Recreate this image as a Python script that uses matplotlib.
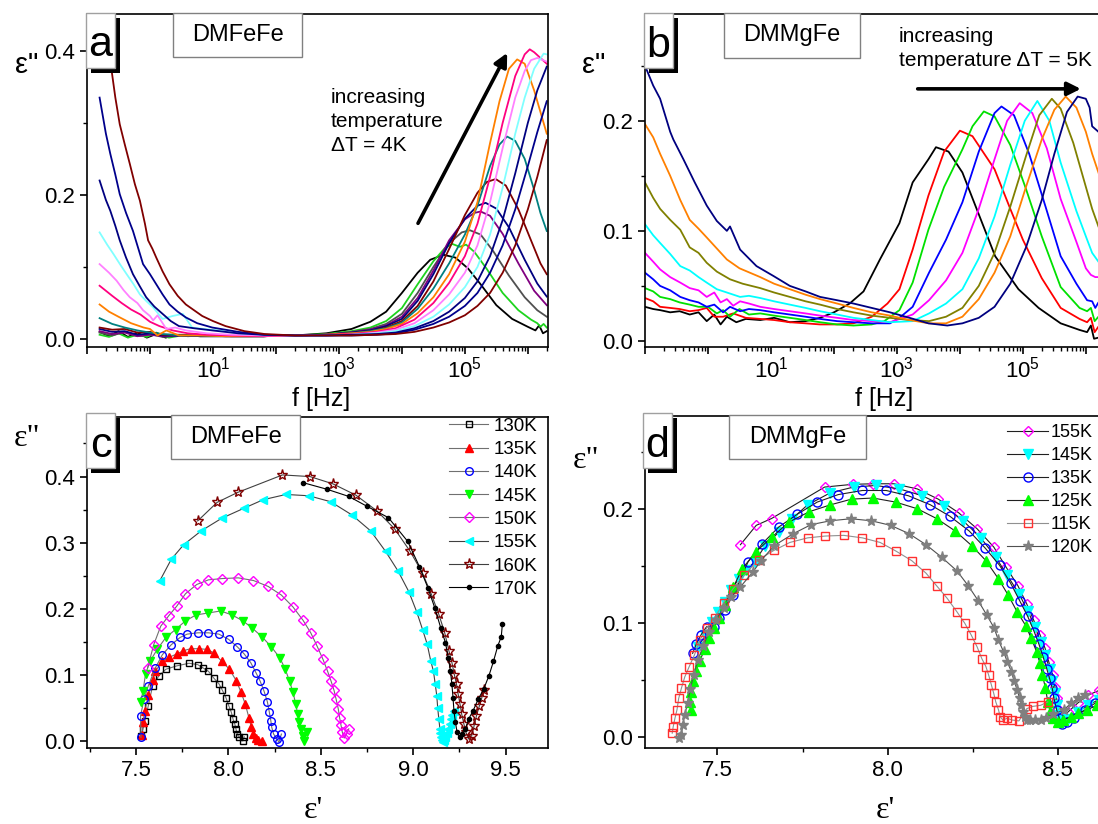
import numpy as np
import matplotlib
matplotlib.use('Agg')
import matplotlib.pyplot as plt
from matplotlib.patches import Rectangle
from matplotlib.ticker import LogLocator, FuncFormatter, MultipleLocator, NullFormatter, FormatStrFormatter

plt.rcParams['font.family'] = ['Liberation Sans', 'DejaVu Sans']
plt.rcParams['mathtext.fontset'] = 'custom'
plt.rcParams['mathtext.rm'] = 'Liberation Sans'
plt.rcParams['mathtext.it'] = 'Liberation Sans:italic'

# ---- panel a: DMFeFe, eps'' vs log10(f), (log10 f, eps'') ----
a_black = [(-0.8,0.010),(-0.65,0.004),(-0.5,0.011),(-0.35,0.003),(-0.2,0.009),(-0.05,0.002),(0.1,0.007),(0.25,0.002),(0.4,0.006),(0.6,0.004),(0.9,0.005),(1.3,0.004),(1.8,0.004),(2.3,0.005),(2.8,0.008),(3.2,0.014),(3.5,0.024),(3.75,0.038),(4.0,0.064),(4.25,0.092),(4.45,0.110),(4.66,0.117),(4.85,0.113),(5.05,0.098),(5.25,0.076),(5.5,0.047),(5.75,0.028),(6.0,0.017),(6.12,0.012),(6.18,0.019),(6.24,0.008),(6.3,0.011)]
a_green = [(-0.8,0.006),(-0.65,0.003),(-0.5,0.008),(-0.35,0.002),(-0.2,0.006),(-0.05,0.003),(0.1,0.009),(0.3,0.002),(0.5,0.005),(0.8,0.004),(1.2,0.004),(1.8,0.004),(2.3,0.005),(2.8,0.007),(3.2,0.011),(3.5,0.016),(3.75,0.025),(4.0,0.043),(4.25,0.076),(4.5,0.108),(4.68,0.126),(4.8,0.132),(4.92,0.128),(5.02,0.131),(5.15,0.121),(5.35,0.097),(5.6,0.064),(5.85,0.040),(6.05,0.027),(6.15,0.022),(6.2,0.017),(6.25,0.021),(6.3,0.016)]
a_gray = [(-0.8,0.009),(-0.6,0.005),(-0.4,0.010),(-0.2,0.004),(0.0,0.007),(0.2,0.003),(0.5,0.005),(0.8,0.004),(1.2,0.004),(1.8,0.004),(2.3,0.005),(2.8,0.006),(3.2,0.010),(3.5,0.014),(3.75,0.021),(4.0,0.035),(4.25,0.064),(4.5,0.100),(4.75,0.133),(4.95,0.148),(5.08,0.151),(5.25,0.145),(5.45,0.122),(5.7,0.088),(5.95,0.058),(6.15,0.040),(6.3,0.031)]
a_purple = [(-0.8,0.011),(-0.6,0.007),(-0.4,0.009),(-0.2,0.004),(0.0,0.006),(0.2,0.004),(0.5,0.005),(0.8,0.004),(1.2,0.004),(1.8,0.004),(2.3,0.005),(2.8,0.006),(3.2,0.009),(3.5,0.013),(3.75,0.019),(4.0,0.031),(4.25,0.057),(4.5,0.095),(4.75,0.137),(5.0,0.166),(5.15,0.175),(5.25,0.177),(5.4,0.171),(5.6,0.146),(5.85,0.105),(6.1,0.067),(6.3,0.047)]
a_navy1 = [(-0.8,0.014),(-0.6,0.010),(-0.4,0.011),(-0.2,0.006),(0.0,0.008),(0.2,0.005),(0.5,0.005),(0.8,0.004),(1.2,0.004),(1.8,0.004),(2.3,0.005),(2.8,0.006),(3.2,0.009),(3.5,0.012),(3.75,0.018),(4.0,0.028),(4.25,0.053),(4.5,0.090),(4.75,0.133),(5.0,0.167),(5.2,0.185),(5.33,0.189),(5.5,0.181),(5.7,0.155),(5.95,0.110),(6.15,0.077),(6.3,0.059)]
a_wine1 = [(-0.8,0.016),(-0.6,0.013),(-0.4,0.014),(-0.2,0.009),(0.0,0.010),(0.2,0.006),(0.5,0.006),(0.8,0.005),(1.2,0.004),(1.8,0.004),(2.3,0.005),(2.8,0.006),(3.2,0.008),(3.5,0.011),(3.75,0.016),(4.0,0.025),(4.25,0.046),(4.5,0.080),(4.75,0.125),(5.0,0.172),(5.2,0.203),(5.35,0.218),(5.49,0.222),(5.65,0.213),(5.85,0.180),(6.05,0.137),(6.2,0.105),(6.3,0.090)]
a_teal = [(-0.8,0.029),(-0.6,0.021),(-0.4,0.016),(-0.2,0.012),(0.0,0.009),(0.2,0.007),(0.5,0.005),(0.8,0.005),(1.2,0.004),(1.8,0.004),(2.3,0.005),(2.8,0.006),(3.2,0.008),(3.5,0.011),(3.75,0.015),(4.0,0.023),(4.25,0.042),(4.5,0.070),(4.75,0.105),(5.0,0.145),(5.2,0.185),(5.4,0.240),(5.55,0.270),(5.67,0.281),(5.8,0.275),(5.95,0.250),(6.1,0.207),(6.2,0.175),(6.3,0.150)]
a_orange = [(-0.8,0.048),(-0.65,0.038),(-0.5,0.031),(-0.3,0.022),(-0.1,0.016),(0.0,0.014),(0.12,0.005),(0.26,0.012),(0.46,0.005),(0.8,0.005),(1.2,0.004),(1.8,0.004),(2.3,0.005),(2.8,0.006),(3.2,0.008),(3.5,0.010),(3.75,0.014),(4.0,0.021),(4.25,0.036),(4.5,0.058),(4.75,0.090),(5.0,0.135),(5.2,0.190),(5.4,0.272),(5.55,0.330),(5.7,0.375),(5.83,0.388),(5.95,0.382),(6.1,0.345),(6.2,0.315),(6.3,0.285)]
a_pink = [(-0.8,0.074),(-0.6,0.060),(-0.45,0.050),(-0.3,0.041),(-0.15,0.034),(0.0,0.024),(0.15,0.018),(0.36,0.012),(0.6,0.008),(0.9,0.006),(1.3,0.005),(1.8,0.004),(2.3,0.005),(2.8,0.006),(3.2,0.007),(3.6,0.010),(3.9,0.015),(4.2,0.027),(4.5,0.050),(4.75,0.078),(5.0,0.115),(5.2,0.160),(5.4,0.225),(5.6,0.300),(5.8,0.365),(5.95,0.395),(6.03,0.402),(6.1,0.398),(6.2,0.390),(6.3,0.382)]
a_ltmag = [(-0.8,0.104),(-0.65,0.092),(-0.53,0.081),(-0.42,0.068),(-0.32,0.058),(-0.2,0.050),(-0.11,0.040),(0.0,0.032),(0.05,0.026),(0.12,0.033),(0.26,0.014),(0.4,0.016),(0.57,0.012),(0.9,0.008),(1.3,0.006),(1.8,0.005),(2.3,0.005),(2.8,0.005),(3.2,0.006),(3.6,0.009),(3.9,0.013),(4.2,0.022),(4.5,0.040),(4.75,0.062),(5.0,0.092),(5.2,0.130),(5.4,0.190),(5.6,0.265),(5.8,0.335),(5.95,0.372),(6.05,0.387),(6.15,0.390),(6.3,0.385)]
a_ltcyan = [(-0.8,0.148),(-0.68,0.131),(-0.58,0.118),(-0.47,0.103),(-0.37,0.090),(-0.26,0.076),(-0.16,0.062),(-0.05,0.052),(0.05,0.044),(0.2,0.028),(0.36,0.032),(0.52,0.035),(0.67,0.016),(0.85,0.014),(1.09,0.012),(1.4,0.008),(1.8,0.006),(2.3,0.005),(2.8,0.005),(3.2,0.006),(3.6,0.008),(3.9,0.011),(4.2,0.018),(4.5,0.031),(4.75,0.048),(5.0,0.072),(5.2,0.100),(5.4,0.145),(5.6,0.210),(5.8,0.285),(5.95,0.335),(6.1,0.375),(6.25,0.396),(6.3,0.395)]
a_navy2 = [(-0.8,0.220),(-0.7,0.193),(-0.63,0.178),(-0.55,0.157),(-0.48,0.137),(-0.38,0.113),(-0.27,0.090),(-0.16,0.073),(-0.06,0.058),(0.07,0.045),(0.2,0.035),(0.33,0.025),(0.46,0.018),(0.7,0.015),(0.99,0.012),(1.4,0.008),(1.8,0.006),(2.3,0.005),(2.8,0.005),(3.2,0.006),(3.6,0.007),(3.9,0.009),(4.2,0.015),(4.5,0.025),(4.75,0.038),(5.0,0.057),(5.2,0.080),(5.4,0.115),(5.6,0.165),(5.8,0.230),(6.0,0.300),(6.15,0.345),(6.3,0.378)]
a_navy3 = [(-0.8,0.335),(-0.7,0.285),(-0.63,0.257),(-0.55,0.228),(-0.48,0.201),(-0.38,0.175),(-0.27,0.150),(-0.19,0.127),(-0.11,0.104),(0.0,0.090),(0.1,0.076),(0.2,0.062),(0.31,0.048),(0.44,0.038),(0.57,0.030),(0.75,0.022),(0.99,0.016),(1.4,0.010),(1.82,0.006),(2.3,0.005),(2.8,0.005),(3.2,0.005),(3.6,0.006),(3.9,0.008),(4.2,0.013),(4.5,0.021),(4.75,0.031),(5.0,0.046),(5.2,0.064),(5.4,0.092),(5.6,0.130),(5.8,0.180),(6.0,0.240),(6.15,0.287),(6.3,0.330)]
a_wine2 = [(-0.8,0.450),(-0.7,0.410),(-0.61,0.373),(-0.55,0.335),(-0.48,0.298),(-0.4,0.270),(-0.32,0.243),(-0.24,0.215),(-0.16,0.192),(-0.08,0.160),(-0.03,0.137),(0.04,0.125),(0.1,0.113),(0.2,0.094),(0.31,0.076),(0.44,0.060),(0.57,0.048),(0.7,0.040),(0.83,0.032),(1.0,0.025),(1.2,0.018),(1.5,0.011),(1.82,0.007),(2.3,0.005),(2.8,0.005),(3.2,0.005),(3.6,0.006),(3.9,0.007),(4.2,0.010),(4.5,0.016),(4.75,0.023),(5.0,0.033),(5.2,0.046),(5.4,0.064),(5.6,0.092),(5.8,0.130),(6.0,0.180),(6.15,0.225),(6.3,0.276)]

# ---- panel b: DMMgFe ----
b_black = [(-1.0,0.031),(-0.87,0.029),(-0.76,0.028),(-0.6,0.026),(-0.45,0.027),(-0.29,0.024),(-0.15,0.026),(-0.02,0.018),(0.1,0.024),(0.2,0.015),(0.3,0.022),(0.45,0.017),(0.6,0.020),(0.83,0.019),(1.05,0.021),(1.3,0.017),(1.55,0.018),(1.78,0.021),(2.0,0.026),(2.25,0.034),(2.47,0.045),(2.73,0.074),(3.04,0.107),(3.25,0.144),(3.5,0.165),(3.62,0.176),(3.82,0.172),(4.04,0.153),(4.3,0.115),(4.56,0.077),(4.93,0.047),(5.25,0.030),(5.6,0.016),(5.9,0.010),(6.02,0.008),(6.08,0.014),(6.13,0.002),(6.2,0.003),(6.3,0.002)]
b_red = [(-1.0,0.039),(-0.87,0.036),(-0.76,0.031),(-0.6,0.030),(-0.45,0.029),(-0.29,0.027),(-0.15,0.028),(-0.02,0.030),(0.1,0.022),(0.24,0.022),(0.4,0.025),(0.6,0.021),(0.83,0.020),(1.05,0.019),(1.3,0.017),(1.55,0.016),(1.78,0.015),(2.05,0.015),(2.31,0.016),(2.6,0.022),(2.85,0.034),(3.04,0.047),(3.25,0.083),(3.5,0.132),(3.75,0.172),(4.0,0.191),(4.2,0.186),(4.55,0.156),(4.8,0.120),(5.0,0.092),(5.3,0.057),(5.6,0.030),(5.9,0.020),(6.02,0.017),(6.08,0.021),(6.14,0.008),(6.2,0.013),(6.3,0.010)]
b_green = [(-1.0,0.048),(-0.87,0.045),(-0.76,0.040),(-0.6,0.038),(-0.45,0.035),(-0.29,0.033),(-0.15,0.031),(0.0,0.031),(0.14,0.025),(0.24,0.028),(0.35,0.022),(0.5,0.029),(0.65,0.024),(0.83,0.025),(1.05,0.023),(1.3,0.021),(1.55,0.019),(1.78,0.017),(2.05,0.015),(2.31,0.014),(2.6,0.015),(2.8,0.018),(3.04,0.028),(3.25,0.053),(3.5,0.101),(3.75,0.140),(4.04,0.174),(4.2,0.195),(4.38,0.2085),(4.55,0.204),(4.8,0.178),(5.05,0.138),(5.3,0.095),(5.6,0.049),(5.9,0.030),(6.02,0.027),(6.08,0.030),(6.14,0.018),(6.2,0.022),(6.3,0.018)]
b_blue = [(-1.0,0.062),(-0.87,0.056),(-0.76,0.050),(-0.6,0.046),(-0.44,0.040),(-0.29,0.037),(-0.15,0.035),(-0.02,0.031),(0.1,0.033),(0.24,0.026),(0.35,0.031),(0.51,0.027),(0.65,0.029),(0.83,0.028),(1.05,0.026),(1.3,0.024),(1.55,0.022),(1.78,0.020),(2.05,0.018),(2.31,0.017),(2.6,0.016),(2.89,0.016),(3.04,0.021),(3.25,0.031),(3.51,0.062),(3.78,0.092),(4.04,0.126),(4.3,0.172),(4.55,0.207),(4.66,0.213),(4.86,0.205),(5.1,0.170),(5.36,0.122),(5.6,0.077),(5.85,0.052),(6.02,0.037),(6.1,0.036),(6.15,0.030),(6.2,0.035),(6.3,0.030)]
b_magenta = [(-1.0,0.080),(-0.87,0.072),(-0.76,0.065),(-0.6,0.058),(-0.44,0.053),(-0.29,0.048),(-0.15,0.046),(-0.02,0.040),(0.1,0.044),(0.2,0.035),(0.3,0.038),(0.4,0.032),(0.51,0.036),(0.65,0.034),(0.83,0.031),(1.05,0.029),(1.3,0.027),(1.55,0.025),(1.78,0.023),(2.05,0.021),(2.31,0.019),(2.6,0.018),(2.89,0.017),(3.25,0.024),(3.51,0.037),(3.78,0.055),(4.04,0.080),(4.3,0.120),(4.55,0.165),(4.75,0.200),(4.95,0.216),(5.15,0.207),(5.38,0.175),(5.6,0.129),(5.85,0.090),(6.0,0.066),(6.08,0.060),(6.15,0.058),(6.2,0.058),(6.3,0.050)]
b_cyan = [(-1.0,0.106),(-0.87,0.096),(-0.76,0.089),(-0.6,0.079),(-0.44,0.068),(-0.29,0.064),(-0.15,0.058),(-0.02,0.053),(0.14,0.047),(0.3,0.044),(0.51,0.040),(0.65,0.041),(0.83,0.039),(1.05,0.036),(1.3,0.033),(1.55,0.030),(1.78,0.027),(2.05,0.024),(2.31,0.021),(2.6,0.019),(2.89,0.017),(3.25,0.018),(3.51,0.025),(3.78,0.034),(4.04,0.047),(4.3,0.075),(4.55,0.113),(4.8,0.160),(5.03,0.200),(5.23,0.218),(5.42,0.200),(5.6,0.162),(5.85,0.118),(6.02,0.092),(6.1,0.080),(6.2,0.072),(6.3,0.062)]
b_olive = [(-1.0,0.144),(-0.87,0.130),(-0.76,0.120),(-0.6,0.110),(-0.44,0.101),(-0.29,0.085),(-0.15,0.080),(-0.02,0.071),(0.14,0.063),(0.35,0.056),(0.55,0.052),(0.83,0.048),(1.05,0.044),(1.3,0.040),(1.55,0.036),(1.78,0.033),(2.05,0.029),(2.31,0.026),(2.6,0.023),(2.89,0.021),(3.2,0.019),(3.51,0.018),(3.78,0.022),(4.04,0.030),(4.3,0.050),(4.55,0.080),(4.8,0.122),(5.05,0.168),(5.26,0.205),(5.46,0.220),(5.6,0.211),(5.8,0.180),(6.0,0.140),(6.1,0.120),(6.2,0.104),(6.3,0.090)]
b_orange = [(-1.0,0.197),(-0.87,0.185),(-0.76,0.170),(-0.6,0.150),(-0.44,0.128),(-0.29,0.110),(-0.15,0.102),(-0.02,0.094),(0.14,0.084),(0.3,0.074),(0.5,0.066),(0.83,0.058),(1.05,0.052),(1.3,0.047),(1.55,0.042),(1.78,0.038),(2.05,0.034),(2.31,0.030),(2.6,0.026),(2.89,0.023),(3.2,0.019),(3.51,0.016),(3.78,0.016),(4.04,0.022),(4.3,0.038),(4.55,0.062),(4.8,0.095),(5.05,0.140),(5.3,0.183),(5.5,0.210),(5.68,0.222),(5.85,0.212),(6.0,0.190),(6.1,0.170),(6.2,0.153),(6.3,0.135)]
b_navy = [(-1.0,0.250),(-0.87,0.232),(-0.76,0.220),(-0.6,0.190),(-0.55,0.183),(-0.39,0.165),(-0.21,0.144),(-0.02,0.123),(0.14,0.109),(0.3,0.100),(0.35,0.104),(0.51,0.083),(0.77,0.068),(1.04,0.059),(1.3,0.050),(1.55,0.045),(1.78,0.040),(2.05,0.037),(2.31,0.034),(2.6,0.030),(2.89,0.026),(3.2,0.021),(3.5,0.016),(3.8,0.014),(4.04,0.016),(4.3,0.021),(4.55,0.031),(4.8,0.052),(5.05,0.085),(5.3,0.128),(5.5,0.170),(5.7,0.208),(5.87,0.222),(6.0,0.220),(6.06,0.212),(6.1,0.195),(6.2,0.190),(6.3,0.182)]

# ---- panel c: DMFeFe Cole-Cole, (eps', eps'') ----
c_130 = [(7.529,0.0075),(7.538,0.0186),(7.548,0.031),(7.567,0.054),(7.590,0.084),(7.624,0.099),(7.662,0.109),(7.720,0.114),(7.787,0.118),(7.834,0.116),(7.863,0.111),(7.892,0.106),(7.920,0.096),(7.949,0.087),(7.968,0.077),(7.987,0.066),(8.002,0.054),(8.016,0.044),(8.025,0.034),(8.035,0.026),(8.041,0.019),(8.048,0.011),(8.060,0.006),(8.079,0.001),(8.086,0.007)]
c_135 = [(7.534,0.010),(7.538,0.029),(7.548,0.046),(7.567,0.070),(7.590,0.092),(7.605,0.106),(7.643,0.121),(7.680,0.127),(7.720,0.132),(7.757,0.137),(7.796,0.140),(7.840,0.140),(7.882,0.139),(7.920,0.134),(7.964,0.121),(8.006,0.109),(8.044,0.091),(8.069,0.074),(8.092,0.056),(8.111,0.036),(8.125,0.021),(8.136,0.011),(8.148,0.005),(8.159,0.002),(8.182,0.000)]
c_140 = [(7.527,0.006),(7.525,0.039),(7.544,0.064),(7.567,0.084),(7.605,0.111),(7.643,0.131),(7.691,0.146),(7.739,0.157),(7.777,0.162),(7.834,0.164),(7.892,0.164),(7.949,0.162),(8.002,0.154),(8.048,0.143),(8.086,0.132),(8.121,0.119),(8.149,0.104),(8.172,0.091),(8.193,0.076),(8.211,0.060),(8.222,0.044),(8.230,0.031),(8.235,0.021),(8.245,0.011),(8.264,0.0035),(8.274,-0.0015),(8.287,0.011)]
c_145 = [(7.525,0.059),(7.538,0.076),(7.552,0.102),(7.576,0.121),(7.615,0.139),(7.662,0.157),(7.714,0.169),(7.768,0.182),(7.825,0.191),(7.892,0.194),(7.958,0.197),(8.020,0.191),(8.079,0.182),(8.130,0.171),(8.182,0.158),(8.232,0.143),(8.279,0.126),(8.308,0.109),(8.331,0.091),(8.350,0.074),(8.365,0.056),(8.375,0.041),(8.384,0.029),(8.392,0.019),(8.404,0.0085),(8.411,0.001),(8.426,0.0135)]
c_150 = [(7.563,0.111),(7.596,0.146),(7.634,0.174),(7.678,0.190),(7.720,0.204),(7.768,0.223),(7.829,0.237),(7.892,0.244),(7.968,0.246),(8.054,0.247),(8.136,0.243),(8.216,0.234),(8.287,0.221),(8.350,0.203),(8.404,0.183),(8.446,0.164),(8.480,0.144),(8.512,0.124),(8.537,0.106),(8.556,0.091),(8.572,0.077),(8.583,0.064),(8.595,0.049),(8.602,0.036),(8.610,0.024),(8.617,0.0135),(8.627,0.005),(8.640,0.011),(8.652,0.019)]
c_155 = [(7.628,0.242),(7.691,0.275),(7.758,0.297),(7.853,0.318),(7.964,0.337),(8.083,0.352),(8.188,0.365),(8.312,0.373),(8.436,0.371),(8.554,0.362),(8.669,0.342),(8.770,0.318),(8.851,0.287),(8.919,0.257),(8.977,0.226),(9.019,0.196),(9.051,0.169),(9.076,0.147),(9.095,0.122),(9.110,0.106),(9.120,0.086),(9.128,0.069),(9.133,0.051),(9.139,0.034),(9.145,0.019),(9.148,0.012),(9.152,0.006),(9.157,0.002),(9.162,-0.0015),(9.168,0.002),(9.175,0.006),(9.183,0.012),(9.191,0.019),(9.199,0.026),(9.206,0.034),(9.212,0.040),(9.219,0.046)]
c_160 = [(7.834,0.333),(7.939,0.361),(8.050,0.376),(8.293,0.4025),(8.442,0.400),(8.566,0.389),(8.690,0.372),(8.805,0.348),(8.900,0.321),(8.984,0.287),(9.051,0.254),(9.099,0.222),(9.139,0.192),(9.171,0.164),(9.194,0.1365),(9.210,0.119),(9.223,0.101),(9.235,0.086),(9.244,0.071),(9.254,0.056),(9.263,0.041),(9.275,0.026),(9.286,0.0135),(9.301,0.0035),(9.317,0.0085),(9.330,0.0235),(9.343,0.039),(9.359,0.054),(9.372,0.066),(9.385,0.077)]
c_170 = [(8.402,0.391),(8.532,0.381),(8.652,0.370),(8.751,0.355),(8.866,0.338),(8.971,0.302),(9.034,0.264),(9.080,0.232),(9.118,0.201),(9.149,0.172),(9.175,0.149),(9.191,0.126),(9.202,0.106),(9.210,0.086),(9.216,0.066),(9.221,0.046),(9.229,0.029),(9.238,0.0135),(9.252,0.006),(9.267,0.011),(9.283,0.019),(9.301,0.034),(9.324,0.046),(9.353,0.064),(9.382,0.079),(9.410,0.099),(9.435,0.121),(9.458,0.144),(9.477,0.158),(9.483,0.177)]

# ---- panel d: DMMgFe Cole-Cole ----
d_155 = [(7.5675,0.169),(7.614,0.186),(7.659,0.192),(7.815,0.2196),(7.897,0.222),(7.957,0.2225),(8.019,0.2225),(8.087,0.218),(8.149,0.209),(8.209,0.197),(8.263,0.183),(8.312,0.167),(8.349,0.149),(8.383,0.133),(8.409,0.117),(8.429,0.103),(8.448,0.090),(8.463,0.078),(8.474,0.066),(8.485,0.055),(8.492,0.044),(8.497,0.034),(8.502,0.025),(8.510,0.018),(8.53,0.022),(8.559,0.030),(8.59,0.037),(8.621,0.041),(8.65,0.045)]
d_145 = [(7.443,0.079),(7.464,0.0896),(7.484,0.101),(7.503,0.110),(7.521,0.119),(7.540,0.129),(7.562,0.139),(7.585,0.147),(7.609,0.154),(7.64,0.168),(7.68,0.180),(7.72,0.192),(7.765,0.204),(7.832,0.2146),(7.9,0.2196),(7.965,0.221),(8.035,0.218),(8.102,0.212),(8.167,0.2026),(8.222,0.190),(8.274,0.175),(8.318,0.158),(8.352,0.142),(8.386,0.126),(8.412,0.111),(8.433,0.097),(8.45,0.084),(8.464,0.072),(8.476,0.060),(8.484,0.049),(8.492,0.0385),(8.497,0.028),(8.504,0.0196),(8.512,0.0137),(8.53,0.016),(8.56,0.022),(8.59,0.028),(8.62,0.033),(8.65,0.037)]
d_135 = [(7.427,0.0736),(7.438,0.082),(7.452,0.090),(7.468,0.097),(7.49,0.097),(7.505,0.105),(7.521,0.112),(7.547,0.125),(7.59,0.154),(7.632,0.170),(7.68,0.1845),(7.734,0.1956),(7.793,0.2064),(7.855,0.213),(7.926,0.2166),(7.996,0.2166),(8.061,0.212),(8.126,0.204),(8.183,0.194),(8.24,0.181),(8.287,0.166),(8.329,0.151),(8.362,0.135),(8.388,0.120),(8.412,0.106),(8.431,0.0926),(8.445,0.0815),(8.457,0.0707),(8.468,0.060),(8.476,0.0517),(8.484,0.043),(8.489,0.034),(8.497,0.024),(8.505,0.0166),(8.512,0.012),(8.528,0.0137),(8.549,0.0166),(8.58,0.024),(8.611,0.030),(8.64,0.035)]
d_125 = [(7.422,0.024),(7.420,0.031),(7.422,0.040),(7.427,0.049),(7.436,0.058),(7.448,0.067),(7.462,0.077),(7.476,0.087),(7.490,0.096),(7.505,0.105),(7.521,0.116),(7.547,0.132),(7.573,0.148),(7.614,0.163),(7.661,0.176),(7.711,0.189),(7.770,0.198),(7.832,0.204),(7.894,0.209),(7.957,0.210),(8.024,0.2064),(8.087,0.2006),(8.144,0.192),(8.199,0.181),(8.248,0.168),(8.289,0.155),(8.326,0.139),(8.354,0.125),(8.381,0.110),(8.406,0.098),(8.422,0.087),(8.438,0.075),(8.448,0.065),(8.455,0.055),(8.464,0.043),(8.471,0.031),(8.478,0.022),(8.487,0.0166),(8.502,0.0137),(8.517,0.015),(8.538,0.018),(8.559,0.021),(8.585,0.024),(8.616,0.028),(8.645,0.031)]
d_115 = [(7.367,0.0035),(7.370,0.0093),(7.375,0.0166),(7.381,0.024),(7.386,0.034),(7.394,0.043),(7.404,0.053),(7.417,0.062),(7.432,0.072),(7.448,0.085),(7.469,0.096),(7.492,0.105),(7.518,0.118),(7.545,0.130),(7.578,0.142),(7.621,0.156),(7.666,0.164),(7.713,0.171),(7.765,0.175),(7.817,0.1766),(7.871,0.1772),(7.926,0.175),(7.978,0.171),(8.024,0.1635),(8.071,0.155),(8.113,0.144),(8.144,0.133),(8.175,0.122),(8.204,0.110),(8.227,0.100),(8.246,0.0896),(8.263,0.0794),(8.277,0.069),(8.289,0.062),(8.297,0.0546),(8.305,0.046),(8.312,0.0385),(8.318,0.031),(8.326,0.024),(8.331,0.018),(8.339,0.015),(8.351,0.0166),(8.367,0.015),(8.386,0.0143),(8.409,0.025),(8.426,0.027),(8.45,0.028),(8.471,0.031)]
d_120 = [(7.387,-0.001),(7.394,0.002),(7.398,0.011),(7.404,0.0196),(7.412,0.030),(7.420,0.042),(7.430,0.055),(7.443,0.068),(7.458,0.080),(7.475,0.092),(7.495,0.103),(7.518,0.113),(7.540,0.123),(7.5675,0.132),(7.604,0.145),(7.628,0.155),(7.666,0.168),(7.723,0.1787),(7.775,0.1866),(7.832,0.190),(7.8925,0.1918),(7.952,0.190),(8.009,0.186),(8.063,0.1787),(8.113,0.169),(8.159,0.158),(8.204,0.146),(8.237,0.133),(8.266,0.120),(8.292,0.107),(8.313,0.096),(8.326,0.085),(8.341,0.075),(8.352,0.066),(8.364,0.0575),(8.372,0.049),(8.381,0.0415),(8.388,0.034),(8.393,0.028),(8.398,0.0225),(8.404,0.018),(8.409,0.015),(8.419,0.015),(8.432,0.015),(8.45,0.015),(8.466,0.017),(8.486,0.020),(8.518,0.024),(8.54,0.030),(8.559,0.034),(8.58,0.037)]

W, H = 1098, 824
fig = plt.figure(figsize=(W / 100, H / 100), dpi=100)


def fx(px):
    return px / W


def fy(py):
    return 1 - py / H


def rect(x0, y0, x1, y1):
    return [fx(x0), fy(y1), (x1 - x0) / W, (y1 - y0) / H]


ax_a = fig.add_axes(rect(87, 14, 548, 347))
ax_b = fig.add_axes(rect(645, 14, 1106, 347))
ax_c = fig.add_axes(rect(87, 417, 548, 748))
ax_d = fig.add_axes(rect(645, 416, 1106, 748))


def odd_decades(v, pos):
    e = int(round(np.log10(v)))
    if e > 0 and e % 2 == 1:
        return r'$10^{%d}$' % e
    return ''


for ax in (ax_a, ax_b, ax_c, ax_d):
    for s in ax.spines.values():
        s.set_linewidth(1.2)
    ax.tick_params(which='major', direction='out', length=5, width=1.2, labelsize=16, top=False, right=False)
    ax.tick_params(which='minor', direction='out', length=3, width=1.0, top=False, right=False)

for ax in (ax_a, ax_b):
    ax.set_xscale('log')
    ax.set_xlim(10 ** -1.0, 10 ** 6.32)
    ax.xaxis.set_major_locator(LogLocator(base=10, numticks=20))
    ax.xaxis.set_major_formatter(FuncFormatter(odd_decades))
    ax.xaxis.set_minor_locator(LogLocator(base=10, subs=np.arange(2, 10), numticks=100))
    ax.xaxis.set_minor_formatter(NullFormatter())
    ax.yaxis.set_major_formatter(FormatStrFormatter('%.1f'))
    ax.tick_params(axis='x', which='major', pad=2)

# panel a
a_curves = [(a_black, '#000000'), (a_green, '#1ed41e'), (a_gray, '#505050'), (a_purple, '#800080'),
            (a_navy1, '#000080'), (a_wine1, '#800000'), (a_teal, '#008080'), (a_orange, '#ff8000'),
            (a_pink, '#ff0080'), (a_ltmag, '#ff80ff'), (a_ltcyan, '#80ffff'), (a_navy2, '#000080'),
            (a_navy3, '#00008b'), (a_wine2, '#800000')]
for data, col in a_curves:
    d = np.array(data)
    ax_a.plot(10 ** d[:, 0], d[:, 1], color=col, lw=1.3)
ax_a.set_ylim(-0.011, 0.451)
ax_a.yaxis.set_major_locator(MultipleLocator(0.2))
ax_a.yaxis.set_minor_locator(MultipleLocator(0.1))
ax_a.annotate('', xy=(10 ** 5.672, 0.397), xytext=(10 ** 4.256, 0.1606),
              arrowprops=dict(arrowstyle='-|>', lw=2.6, color='k', mutation_scale=20, shrinkA=0, shrinkB=0))
ax_a.text(10 ** 2.87, 0.349, 'increasing\ntemperature\n\u0394T = 4K', fontsize=15, va='top', ha='left',
          linespacing=1.35)

# panel b
b_curves = [(b_black, '#000000'), (b_red, '#ff0000'), (b_green, '#00e000'), (b_blue, '#0000ff'),
            (b_magenta, '#ff00ff'), (b_cyan, '#00ffff'), (b_olive, '#808000'), (b_orange, '#ff8000'),
            (b_navy, '#000080')]
for data, col in b_curves:
    d = np.array(data)
    ax_b.plot(10 ** d[:, 0], d[:, 1], color=col, lw=1.3)
ax_b.set_ylim(-0.0055, 0.297)
ax_b.yaxis.set_major_locator(MultipleLocator(0.1))
ax_b.yaxis.set_minor_locator(MultipleLocator(0.05))
ax_b.annotate('', xy=(10 ** 5.92, 0.229), xytext=(10 ** 3.33, 0.229),
              arrowprops=dict(arrowstyle='-|>', lw=2.6, color='k', mutation_scale=20, shrinkA=0, shrinkB=0))
ax_b.text(10 ** 3.03, 0.285, 'increasing\ntemperature \u0394T = 5K', fontsize=15, va='top', ha='left',
          linespacing=1.35)

# panel c
c_series = [
    (c_130, '130K', 's', 5, 'none', '#000000', '#707070'),
    (c_135, '135K', '^', 6, '#ff0000', '#ff0000', '#707070'),
    (c_140, '140K', 'o', 5.5, 'none', '#0000ff', '#707070'),
    (c_145, '145K', 'v', 6, '#00ff00', '#00ff00', '#707070'),
    (c_150, '150K', 'D', 5, 'none', '#ff00ff', '#707070'),
    (c_155, '155K', '<', 6, '#00ffff', '#00ffff', '#404040'),
    (c_160, '160K', '*', 8, 'none', '#800000', '#404040'),
    (c_170, '170K', 'o', 3, '#000000', '#000000', '#000000'),
]
for data, lab, m, ms, mfc, mec, lc in c_series:
    d = np.array(data)
    ax_c.plot(d[:, 0], d[:, 1], color=lc, lw=0.8, marker=m, ms=ms, mfc=mfc, mec=mec, mew=1.0, label=lab)
ax_c.set_xlim(7.235, 9.73)
ax_c.set_ylim(-0.01, 0.49)
ax_c.xaxis.set_major_locator(MultipleLocator(0.5))
ax_c.xaxis.set_minor_locator(MultipleLocator(0.25))
ax_c.yaxis.set_major_locator(MultipleLocator(0.1))
ax_c.yaxis.set_minor_locator(MultipleLocator(0.05))
ax_c.xaxis.set_major_formatter(FormatStrFormatter('%.1f'))
ax_c.yaxis.set_major_formatter(FormatStrFormatter('%.1f'))
ax_c.legend(loc='upper left', bbox_to_anchor=(0.785, 0.998), frameon=False, fontsize=13.5, numpoints=1,
            handlelength=2.1, handletextpad=0.3, labelspacing=0.33, borderpad=0, borderaxespad=0)

# panel d
d_series = [
    (d_155, '155K', 'D', 5.5, 'none', '#ff00ff', '#202020'),
    (d_145, '145K', 'v', 7, '#00ffff', '#00ffff', '#202020'),
    (d_135, '135K', 'o', 6.5, 'none', '#0000ff', '#202020'),
    (d_125, '125K', '^', 7, '#00ff00', '#00ff00', '#202020'),
    (d_115, '115K', 's', 6, 'none', '#ff3030', '#909090'),
    (d_120, '120K', '*', 8, '#808080', '#808080', '#505050'),
]
for data, lab, m, ms, mfc, mec, lc in d_series:
    d = np.array(data)
    ax_d.plot(d[:, 0], d[:, 1], color=lc, lw=0.8, marker=m, ms=ms, mfc=mfc, mec=mec, mew=1.0, label=lab)
ax_d.set_xlim(7.287, 8.642)
ax_d.set_ylim(-0.0095, 0.282)
ax_d.xaxis.set_major_locator(MultipleLocator(0.5))
ax_d.xaxis.set_minor_locator(MultipleLocator(0.25))
ax_d.yaxis.set_major_locator(MultipleLocator(0.1))
ax_d.yaxis.set_minor_locator(MultipleLocator(0.05))
ax_d.xaxis.set_major_formatter(FormatStrFormatter('%.1f'))
ax_d.yaxis.set_major_formatter(FormatStrFormatter('%.1f'))
ax_d.legend(loc='upper left', bbox_to_anchor=(0.785, 0.975), frameon=False, fontsize=13, numpoints=1,
            handlelength=2.3, handletextpad=0.1, labelspacing=0.33, borderpad=0, borderaxespad=0)


def letter_box(x0, y0, x1, y1, letter, bx, by):
    fig.add_artist(Rectangle((fx(x0 + 5), fy(y1 + 5)), (x1 - x0) / W, (y1 - y0) / H,
                             transform=fig.transFigure, facecolor='k', edgecolor='none'))
    fig.add_artist(Rectangle((fx(x0), fy(y1)), (x1 - x0) / W, (y1 - y0) / H,
                             transform=fig.transFigure, facecolor='white', edgecolor='#a0a0a0', lw=1))
    fig.text(fx(bx), fy(by), letter, fontsize=31, ha='center', va='baseline')


def name_box(x0, y0, x1, y1, name):
    fig.add_artist(Rectangle((fx(x0), fy(y1)), (x1 - x0) / W, (y1 - y0) / H,
                             transform=fig.transFigure, facecolor='white', edgecolor='#808080', lw=1))
    fig.text(fx((x0 + x1) / 2), fy((y0 + y1) / 2), name, fontsize=17, ha='center', va='center')


letter_box(86, 13, 115, 68, 'a', 100.5, 56)
letter_box(644, 13, 673, 68, 'b', 658.5, 57)
letter_box(86, 413, 115, 468, 'c', 100.5, 457)
letter_box(643, 413, 672, 468, 'd', 657.5, 457)
name_box(173, 13, 302, 57, 'DMFeFe')
name_box(724, 13, 860, 58, 'DMMgFe')
name_box(171, 415, 300, 459, 'DMFeFe')
name_box(729, 415, 866, 459, 'DMMgFe')

serif = ['Liberation Serif', 'DejaVu Serif']
fig.text(fx(27), fy(65), '\u03b5"', fontsize=21, ha='center', va='center')
fig.text(fx(594), fy(65), '\u03b5"', fontsize=21, ha='center', va='center')
fig.text(fx(27), fy(438), '\u03b5"', fontsize=23, ha='center', va='center', family=serif)
fig.text(fx(586), fy(460), '\u03b5"', fontsize=23, ha='center', va='center', family=serif)
fig.text(fx(321), fy(399), 'f [Hz]', fontsize=18, ha='center', va='center')
fig.text(fx(884), fy(399), 'f [Hz]', fontsize=18, ha='center', va='center')
fig.text(fx(313), fy(811), "\u03b5'", fontsize=23, ha='center', va='center', family=serif)
fig.text(fx(885), fy(811), "\u03b5'", fontsize=23, ha='center', va='center', family=serif)

fig.savefig('out.png', dpi=100)
